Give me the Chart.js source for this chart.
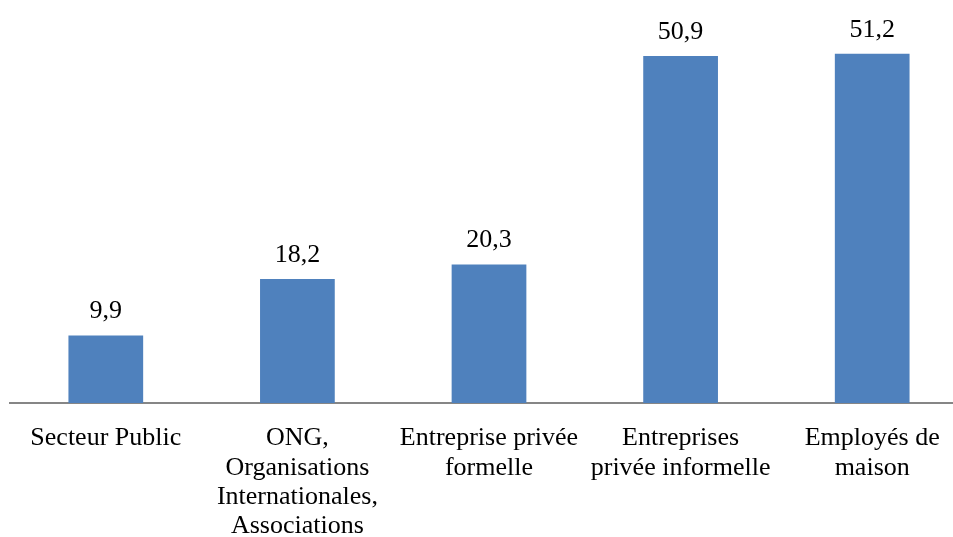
<!DOCTYPE html>
<html>
<head>
<meta charset="utf-8">
<script src="https://cdn.jsdelivr.net/npm/chart.js@4"></script>
<style>
  html, body { margin: 0; padding: 0; background: #fff; overflow: hidden; }
  #wrap { width: 970px; height: 537px; }
</style>
</head>
<body>
<div id="wrap"><canvas id="barChart" width="970" height="537"></canvas></div>
<script>
// categories and values
const categories = [
  ['Secteur Public'],
  ['ONG,', 'Organisations', 'Internationales,', 'Associations'],
  ['Entreprise privée', 'formelle'],
  ['Entreprises', 'privée informelle'],
  ['Employés de', 'maison']
];
const values = [9.9, 18.2, 20.3, 50.9, 51.2];
const valueLabels = ['9,9', '18,2', '20,3', '50,9', '51,2'];

const serif = '"Liberation Serif", "Times New Roman", serif';

// draw the value above each bar
const valueLabelPlugin = {
  id: 'valueLabels',
  afterDatasetsDraw(chart) {
    const ctx = chart.ctx;
    const meta = chart.getDatasetMeta(0);
    ctx.save();
    ctx.font = '26px ' + serif;
    ctx.fillStyle = '#000';
    ctx.textAlign = 'center';
    ctx.textBaseline = 'middle';
    meta.data.forEach((bar, i) => {
      ctx.fillText(valueLabels[i], bar.x, bar.y - 24);
    });
    ctx.restore();
  }
};

const ctx = document.getElementById('barChart').getContext('2d');
new Chart(ctx, {
  type: 'bar',
  data: {
    labels: categories,
    datasets: [{
      data: values,
      backgroundColor: '#4f81bd',
      borderWidth: 0,
      barPercentage: 0.39,
      categoryPercentage: 1
    }]
  },
  options: {
    responsive: false,
    animation: false,
    layout: { padding: { left: 10, right: 2, top: 0, bottom: 0 } },
    plugins: {
      legend: { display: false },
      tooltip: { enabled: false }
    },
    scales: {
      x: {
        grid: { display: false, drawTicks: false },
        border: { display: true, color: '#868686', width: 2 },
        ticks: {
          color: '#000',
          padding: 21,
          maxRotation: 0,
          autoSkip: false,
          font: { family: serif, size: 26, lineHeight: 1.12 }
        },
        afterFit(scale) { scale.height = 134; }
      },
      y: {
        display: false,
        min: 0,
        max: 59.1
      }
    }
  },
  plugins: [valueLabelPlugin]
});
</script>
</body>
</html>
